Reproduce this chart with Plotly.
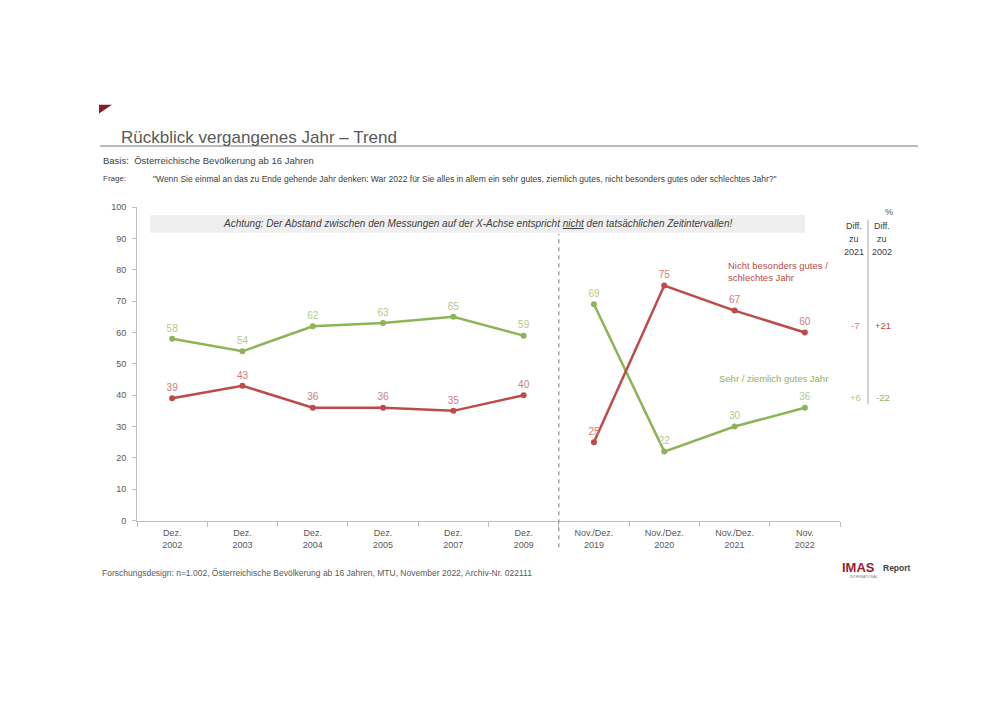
import plotly.graph_objects as go

# ---- data ----
periods = ["Dez.<br>2002", "Dez.<br>2003", "Dez.<br>2004", "Dez.<br>2005", "Dez.<br>2007",
           "Dez.<br>2009", "Nov./Dez.<br>2019", "Nov./Dez.<br>2020", "Nov./Dez.<br>2021", "Nov.<br>2022"]
gutes_jahr = [58, 54, 62, 63, 65, 59, 69, 22, 30, 36]
schlechtes_jahr = [39, 43, 36, 36, 35, 40, 25, 75, 67, 60]
split_index = 6  # break between Dez. 2009 and Nov./Dez. 2019
diff_2021 = {"schlechtes": "-7", "gutes": "+6"}
diff_2002 = {"schlechtes": "+21", "gutes": "-22"}

# page body has an 8px margin -> figure is 984x691 placed at (8, 8)
OFF = 8
W, H = 1000 - 2 * OFF, 707 - 2 * OFF
FONT = "Liberation Sans"
GREEN, GREEN_LBL = "#8db456", "#b3c98a"
RED, RED_LBL = "#bd4b48", "#cf7d7b"
GREY_TXT = "#595959"


def px(x):
    return (x - OFF) / W


def py(y):
    return 1 - (y - OFF) / H


fig = go.Figure()

for vals, col, lbl, name in [(gutes_jahr, GREEN, GREEN_LBL, "Sehr / ziemlich gutes Jahr"),
                             (schlechtes_jahr, RED, RED_LBL, "Nicht besonders gutes / schlechtes Jahr")]:
    for seg in (slice(0, split_index), slice(split_index, len(periods))):
        fig.add_trace(go.Scatter(
            x=periods[seg], y=vals[seg], mode="lines+markers+text",
            line=dict(color=col, width=2.5), marker=dict(color=col, size=6),
            text=[str(v) for v in vals[seg]], textposition="top center",
            textfont=dict(color=lbl, size=10, family=FONT),
            name=name, showlegend=False, cliponaxis=False))

fig.update_layout(
    width=W, height=H, margin=dict(l=0, r=0, t=0, b=0),
    paper_bgcolor="white", plot_bgcolor="white",
    font=dict(family=FONT, color=GREY_TXT),
    xaxis=dict(domain=[px(137), px(840)], type="category", categoryorder="array",
               categoryarray=periods, range=[-0.5, len(periods) - 0.5],
               showline=True, linecolor="#bfbfbf", linewidth=1,
               ticks="outside", tickson="boundaries", ticklen=5, tickcolor="#bfbfbf",
               ticklabelstandoff=4,
               tickfont=dict(size=9, color=GREY_TXT), showgrid=False, zeroline=False),
    yaxis=dict(domain=[py(523), py(205)], range=[0, 100], dtick=10,
               showline=True, linecolor="#bfbfbf", linewidth=1,
               ticks="outside", ticklen=4, tickcolor="#bfbfbf", ticklabelstandoff=4,
               tickfont=dict(size=9, color=GREY_TXT), showgrid=False, zeroline=False),
)

shapes = [
    # red corner triangle
    dict(type="path", xref="paper", yref="paper",
         path=f"M {px(99)} {py(101)} L {px(112)} {py(101)} L {px(99)} {py(110)} Z",
         fillcolor="#8c1c2c", line=dict(width=0)),
    # title underline
    dict(type="line", xref="paper", yref="paper", x0=px(100), x1=px(918), y0=py(143), y1=py(143),
         line=dict(color="#a6a6a6", width=1.5)),
    # grey banner
    dict(type="rect", xref="paper", yref="paper", x0=px(150), x1=px(805), y0=py(231), y1=py(213),
         fillcolor="#efefef", line=dict(width=0), layer="below"),
    # dashed separator
    dict(type="line", xref="x", yref="paper", x0=split_index - 0.5, x1=split_index - 0.5,
         y0=py(550), y1=py(232), line=dict(color="#a6a6a6", width=1.5, dash="4px,4px")),
    # diff separator
    dict(type="line", xref="paper", yref="paper", x0=px(868), x1=px(868), y0=py(405), y1=py(218),
         line=dict(color="#a6a6a6", width=1)),
]

ann = []


def add_text(x, y, text, size, color=GREY_TXT, xanchor="left", **kw):
    ann.append(dict(x=px(x), y=py(y), xref="paper", yref="paper", text=text, showarrow=False,
                    xanchor=xanchor, yanchor="middle", font=dict(size=size, color=color, family=FONT), **kw))


add_text(119, 134, "Rückblick vergangenes Jahr – Trend", 17, "#595959")
add_text(101, 158, "Basis:  Österreichische Bevölkerung ab 16 Jahren", 9.5, "#404040")
add_text(101, 176, "Frage:", 8, "#404040")
add_text(151, 176, "\"Wenn Sie einmal an das zu Ende gehende Jahr denken: War 2022 für Sie alles in allem ein sehr gutes, "
         "ziemlich gutes, nicht besonders gutes oder schlechtes Jahr?\"", 8.5, "#404040")
add_text(477, 222, "<i>Achtung: Der Abstand zwischen den Messungen auf der X-Achse entspricht <u>nicht</u> "
         "den tatsächlichen Zeitintervallen!</i>", 10, "#404040", xanchor="center")
add_text(889, 210, "%", 9, GREY_TXT, xanchor="center")
for i, (a, b) in enumerate([("Diff.", "Diff."), ("zu", "zu"), ("2021", "2002")]):
    add_text(854, 224 + i * 13.5, a, 9, "#404040", xanchor="center")
    add_text(882, 224 + i * 13.5, b, 9, "#404040", xanchor="center")
add_text(855, 325, diff_2021["schlechtes"], 9.5, RED_LBL, xanchor="center")
add_text(883, 325, diff_2002["schlechtes"], 9.5, RED, xanchor="center")
add_text(855, 398, diff_2021["gutes"], 9.5, GREEN_LBL, xanchor="center")
add_text(883, 398, diff_2002["gutes"], 9.5, GREEN, xanchor="center")
add_text(726, 264, "Nicht besonders gutes /", 9.5, RED)
add_text(726, 276, "schlechtes Jahr", 9.5, RED)
add_text(717, 379, "Sehr / ziemlich gutes Jahr", 9.5, GREEN)
add_text(100, 576, "Forschungsdesign: n=1.002, Österreichische Bevölkerung ab 16 Jahren, MTU, November 2022, Archiv-Nr. 022111",
         8.5, GREY_TXT)
add_text(840, 571, "<b>IMAS</b>", 13, "#9e1b2d")
add_text(881, 571, "<b>Report</b>", 8.5, "#404040")
add_text(848, 580, "INTERNATIONAL", 3.5, "#808080")

fig.update_layout(shapes=shapes, annotations=ann)
fig.write_html("out.html")
